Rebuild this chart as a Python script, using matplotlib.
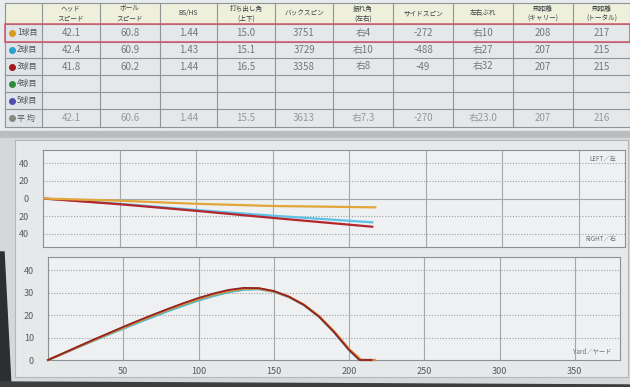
import matplotlib
matplotlib.use("Agg")
import matplotlib.pyplot as plt
from matplotlib.patches import Rectangle, Polygon

plt.rcParams['font.family'] = ['Noto Sans CJK JP', 'DejaVu Sans']

# ---- table data ----
headers = ["ヘッド\nスピード", "ボール\nスピード", "BS/HS", "打ち出し角\n(上下)", "バックスピン",
           "振れ角\n(左右)", "サイドスピン", "左右ぶれ", "飛距離\n(キャリー)", "飛距離\n(トータル)"]
row_labels = ["1球目", "2球目", "3球目", "4球目", "5球目", "平 均"]
row_colors = ["#d99a1c", "#2a9fd0", "#a3161c", "#2d8c3c", "#4f4fae", "#858a80"]

head_speed = ["42.1", "42.4", "41.8", "", "", "42.1"]
ball_speed = ["60.8", "60.9", "60.2", "", "", "60.6"]
smash = ["1.44", "1.43", "1.44", "", "", "1.44"]
launch = ["15.0", "15.1", "16.5", "", "", "15.5"]
backspin = ["3751", "3729", "3358", "", "", "3613"]
swing_dir = ["右4", "右10", "右8", "", "", "右7.3"]
sidespin = ["-272", "-488", "-49", "", "", "-270"]
offline = ["右10", "右27", "右32", "", "", "右23.0"]
carry = ["208", "207", "207", "", "", "207"]
total = ["217", "215", "215", "", "", "216"]
columns = [head_speed, ball_speed, smash, launch, backspin,
           swing_dir, sidespin, offline, carry, total]

# ---- top view (lateral, + = left / - = right) ----
top_x1 = [0, 50, 100, 150, 217]
top_y1 = [0, -2.5, -6, -8.5, -10]
top_x2 = [0, 50, 100, 150, 215]
top_y2 = [0, -6, -13, -19.5, -27]
top_x3 = [0, 50, 100, 150, 215]
top_y3 = [0, -6.5, -14, -22, -32]

# ---- side view (height) ----
side_x1 = [0, 10, 20, 30, 40, 50, 60, 70, 80, 90, 100, 110, 120, 130, 140,
           150, 160, 170, 180, 190, 200, 208, 217]
side_y1 = [0, 2.9, 5.9, 8.8, 11.7, 14.5, 17.3, 20.0, 22.6, 25.0, 27.3, 29.3, 30.9,
           31.9, 31.9, 30.7, 28.3, 24.7, 19.6, 12.8, 4.9, 0, 0]
side_x2 = [0, 10, 20, 30, 40, 50, 60, 70, 80, 90, 100, 110, 120, 130, 140,
           150, 160, 170, 180, 190, 200, 207, 215]
side_y2 = [0, 2.8, 5.7, 8.5, 11.3, 14.0, 16.7, 19.3, 21.9, 24.3, 26.6, 28.6, 30.3,
           31.4, 31.6, 30.5, 28.1, 24.5, 19.3, 12.4, 4.4, 0, 0]
side_x3 = [0, 10, 20, 30, 40, 50, 60, 70, 80, 90, 100, 110, 120, 130, 140,
           150, 160, 170, 180, 190, 200, 207, 215]
side_y3 = [0, 3.0, 6.0, 9.0, 11.9, 14.8, 17.6, 20.3, 22.9, 25.4, 27.7, 29.7, 31.3,
           32.2, 32.1, 30.8, 28.3, 24.6, 19.4, 12.5, 4.5, 0, 0]

x_ticks = [50, 100, 150, 200, 250, 300, 350]

W, H = 630, 387
fig = plt.figure(figsize=(6.3, 3.87), dpi=100)
fig.patch.set_facecolor("#e3e6e7")

# background canvas in pixel coordinates
bg = fig.add_axes([0, 0, 1, 1])
bg.set_xlim(0, W)
bg.set_ylim(H, 0)
bg.axis('off')

col_x = [5, 42, 100, 160, 217, 275, 333, 393, 453, 513, 573, 630]
row_y = [3, 24, 41.5, 58, 75, 92, 109, 127]
grid_c = "#8e9498"

# table background
bg.add_patch(Rectangle((0, 0), W, 131, color="#e9ecee", zorder=0))
for j in range(len(col_x) - 1):
    bg.add_patch(Rectangle((col_x[j], row_y[0]), col_x[j + 1] - col_x[j],
                           row_y[1] - row_y[0], color="#eef0dc", zorder=1))
    for i in range(1, len(row_y) - 1):
        c = "#dfe4e8" if j == 0 else "#e4e8eb"
        bg.add_patch(Rectangle((col_x[j], row_y[i]), col_x[j + 1] - col_x[j],
                               row_y[i + 1] - row_y[i], color=c, zorder=1))
for x in col_x:
    bg.plot([x, x], [row_y[0], row_y[-1]], color=grid_c, lw=0.8, zorder=2)
for y in row_y:
    bg.plot([col_x[0], W], [y, y], color=grid_c, lw=0.8, zorder=2)

# highlighted first row
bg.add_patch(Rectangle((col_x[0], row_y[1]), W - col_x[0], row_y[2] - row_y[1],
                       fill=False, ec="#d0566a", lw=1.1, zorder=3))

# headers
for j, h in enumerate(headers):
    cx = (col_x[j + 1] + col_x[j + 2]) / 2
    bg.text(cx, (row_y[0] + row_y[1]) / 2, h, ha='center', va='center',
            fontsize=4.8, color="#3c4044", linespacing=1.3, zorder=4)

# row labels and values
for i, lab in enumerate(row_labels):
    cy = (row_y[i + 1] + row_y[i + 2]) / 2
    bg.scatter([12], [cy], s=16, color=row_colors[i], zorder=4)
    bg.text(17, cy, lab, ha='left', va='center', fontsize=5.8,
            color="#50565a", zorder=4)
    for j, col in enumerate(columns):
        cx = (col_x[j + 1] + col_x[j + 2]) / 2
        tc = "#95999b" if i == 5 else "#74787c"
        bg.text(cx, cy, col[i], ha='center', va='center', fontsize=7,
                color=tc, zorder=4)

# separator band and chart panel
bg.add_patch(Rectangle((0, 131), W, 7, color="#b9bdbf", zorder=1))
bg.add_patch(Rectangle((0, 138), W, H - 138, color="#d5d8d9", zorder=1))
bg.add_patch(Rectangle((15, 140), 613, 237, fc="#e6e9ea", ec="#b4b8ba",
                       lw=0.8, zorder=1))

# screen bezel
bg.add_patch(Polygon([(0, 252), (4, 252), (11, 387), (0, 387)], color="#2b2f31", zorder=5))
bg.add_patch(Polygon([(0, 382), (630, 385), (630, 387), (0, 387)], color="#3a3e40", zorder=5))

tick_c = "#555a5e"


def style_axes(ax):
    ax.set_facecolor("#eef0f1")
    for s in ax.spines.values():
        s.set_color("#8a9094")
        s.set_linewidth(0.8)
    ax.set_xlim(0, 380)
    ax.set_xticks(x_ticks)
    ax.tick_params(length=0, labelsize=6.5, labelcolor=tick_c)
    for x in x_ticks:
        ax.axvline(x, color="#a4a9ac", lw=0.8, zorder=1)


# top view chart
ax1 = fig.add_axes([43 / W, 1 - 247 / H, (625 - 43) / W, (247 - 150) / H])
style_axes(ax1)
ax1.set_ylim(-55, 55)
ax1.set_yticks([-40, -20, 0, 20, 40])
ax1.set_yticklabels(["40", "20", "0", "20", "40"])
ax1.set_xticklabels([])
ax1.tick_params(axis='y', pad=10)
for y in [-40, -20, 20, 40]:
    ax1.axhline(y, color="#9aa0a4", lw=0.8, ls=(0, (1, 1.5)), zorder=1)
ax1.axhline(0, color="#a4a9ac", lw=0.8, zorder=1)
ax1.plot(top_x2, top_y2, color="#5cc2ea", lw=1.6, zorder=3)
ax1.plot(top_x3, top_y3, color="#b3262e", lw=1.6, zorder=4)
ax1.plot(top_x1, top_y1, color="#e3a63a", lw=1.6, zorder=5)
ax1.text(0.985, 0.9, "LEFT／左", transform=ax1.transAxes, ha='right',
         va='center', fontsize=4.5, color="#6c7074")
ax1.text(0.985, 0.08, "RIGHT／右", transform=ax1.transAxes, ha='right',
         va='center', fontsize=4.5, color="#6c7074")

# side view chart
ax2 = fig.add_axes([48 / W, 1 - 360 / H, (620 - 48) / W, (360 - 257) / H])
style_axes(ax2)
ax2.set_ylim(0, 46)
ax2.set_yticks([0, 10, 20, 30, 40])
ax2.tick_params(axis='y', pad=10)
ax2.tick_params(axis='x', pad=5)
for y in [10, 20, 30, 40]:
    ax2.axhline(y, color="#9aa0a4", lw=0.8, ls=(0, (1, 1.5)), zorder=1)
ax2.plot(side_x2, side_y2, color="#4fb8c8", lw=1.6, zorder=3, clip_on=False)
ax2.plot(side_x1, side_y1, color="#e8892a", lw=1.7, zorder=4, clip_on=False)
ax2.plot(side_x3, side_y3, color="#8e2428", lw=1.3, zorder=5, clip_on=False)
ax2.text(0.985, 0.08, "Yard／ヤード", transform=ax2.transAxes, ha='right',
         va='center', fontsize=4.5, color="#6c7074")

fig.savefig("out.png", dpi=100, facecolor=fig.get_facecolor())
